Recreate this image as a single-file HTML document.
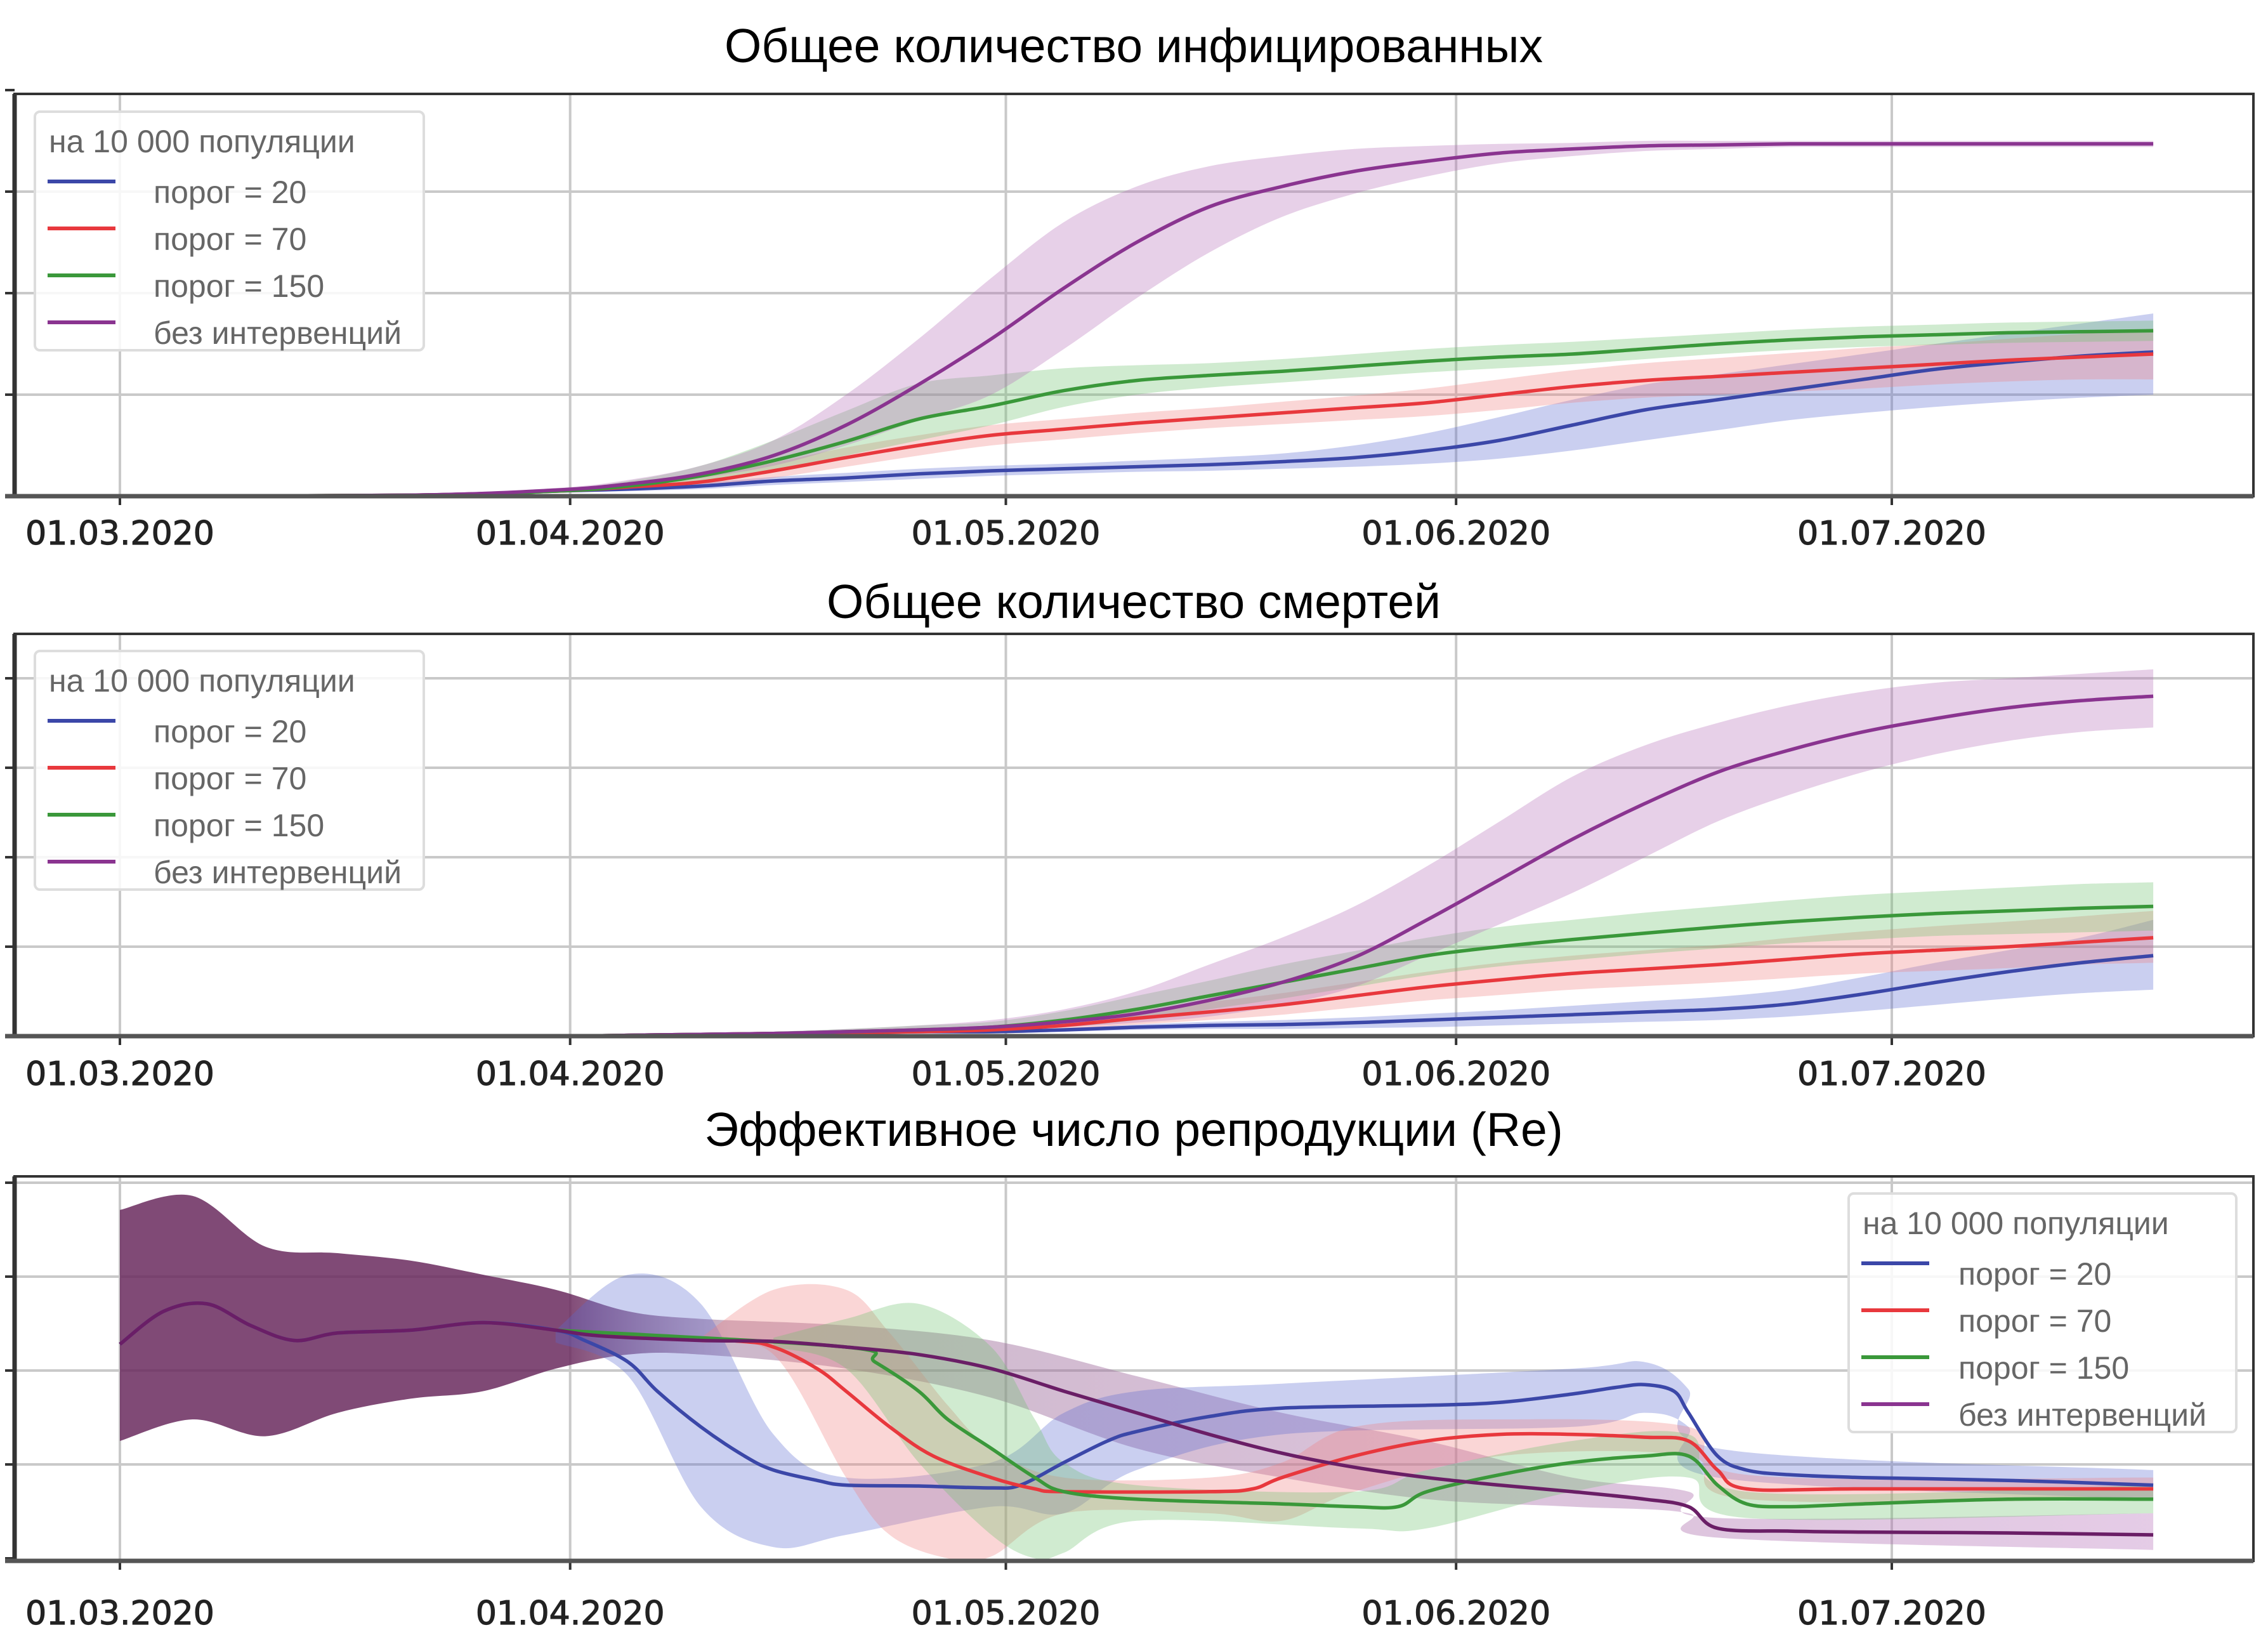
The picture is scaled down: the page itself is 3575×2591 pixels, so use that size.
<!DOCTYPE html>
<html><head><meta charset="utf-8">
<style>
html,body{margin:0;padding:0;background:#fff;}
svg{display:block;}
.title{font-family:"Liberation Sans","DejaVu Sans",sans-serif;font-size:75px;fill:#000;}
.tick{font-family:"DejaVu Sans","Liberation Sans",sans-serif;font-size:52px;fill:#222;stroke:#222;stroke-width:1.2px;}
.leg{font-family:"Liberation Sans","DejaVu Sans",sans-serif;font-size:50px;fill:#666;}
</style></head>
<body>
<svg id="chart" width="3575" height="2591" viewBox="0 0 3575 2591" xmlns="http://www.w3.org/2000/svg">
<defs>
<linearGradient id="p3grad" gradientUnits="userSpaceOnUse" x1="189" y1="0" x2="3393" y2="0">
<stop offset="0" stop-color="#6a2a5e" stop-opacity="0.85"/>
<stop offset="0.22" stop-color="#6a2a5e" stop-opacity="0.85"/>
<stop offset="0.30" stop-color="#9a7096" stop-opacity="0.5"/>
<stop offset="1" stop-color="#b46cb8" stop-opacity="0.35"/>
</linearGradient>
</defs>
</svg>
<script>
// ---- data (day index from 01.03.2020) ----
const dateTickDays = [0, 31, 61, 92, 122];
const dateTickLabels = ["01.03.2020","01.04.2020","01.05.2020","01.06.2020","01.07.2020"];
const panelTitles = ["Общее количество инфицированных","Общее количество смертей","Эффективное число репродукции (Re)"];
const seriesNames = ["порог = 20","порог = 70","порог = 150","без интервенций"];
const legendTitle = "на 10 000 популяции";

const days12 = [0,20,30,35,40,45,50,55,60,65,70,75,80,85,90,95,100,105,110,115,120,125,130,135,140];

// Panel 1: infected
const p1BlueMean = [0,.01,.05,.07,.1,.15,.18,.22,.25,.27,.29,.31,.34,.38,.45,.55,.7,.85,.95,1.05,1.15,1.25,1.32,1.38,1.42];
const p1BlueHi = [0,.01,.06,.09,.13,.19,.23,.27,.3,.32,.35,.38,.42,.5,.62,.78,.95,1.1,1.2,1.3,1.4,1.5,1.6,1.7,1.8];
const p1BlueLo = [0,.01,.04,.05,.07,.11,.14,.17,.2,.22,.24,.25,.27,.29,.32,.37,.45,.55,.65,.75,.82,.88,.93,.97,1.0];
const p1RedMean = [0,.01,.05,.09,.14,.25,.38,.5,.6,.66,.72,.77,.82,.87,.92,1.0,1.08,1.14,1.18,1.22,1.26,1.3,1.34,1.37,1.4];
const p1RedHi = [0,.01,.06,.12,.2,.33,.48,.6,.7,.76,.82,.87,.93,.99,1.06,1.15,1.24,1.31,1.36,1.41,1.46,1.5,1.55,1.6,1.65];
const p1RedLo = [0,.01,.04,.07,.1,.18,.29,.4,.5,.56,.62,.67,.71,.75,.79,.85,.92,.97,1.0,1.03,1.06,1.1,1.13,1.15,1.15];
const p1GreenMean = [0,.01,.05,.1,.2,.35,.54,.76,.89,1.04,1.14,1.19,1.23,1.28,1.33,1.37,1.4,1.45,1.5,1.54,1.57,1.59,1.61,1.62,1.63];
const p1GreenHi = [0,.01,.07,.15,.3,.55,.84,1.11,1.19,1.26,1.29,1.31,1.35,1.4,1.45,1.49,1.52,1.56,1.6,1.64,1.67,1.69,1.71,1.72,1.73];
const p1GreenLo = [0,.01,.04,.07,.14,.25,.4,.55,.7,.88,1.0,1.07,1.12,1.17,1.22,1.26,1.3,1.35,1.4,1.44,1.47,1.49,1.51,1.52,1.53];
const p1PurpleMean = [0,.01,.06,.12,.22,.4,.7,1.1,1.55,2.05,2.5,2.85,3.05,3.2,3.3,3.38,3.42,3.45,3.46,3.47,3.47,3.47,3.47,3.47,3.47];
const p1PurpleHi = [0,.02,.08,.16,.3,.55,1.0,1.55,2.15,2.7,3.05,3.25,3.35,3.42,3.45,3.47,3.48,3.5,3.5,3.5,3.5,3.5,3.5,3.5,3.5];
const p1PurpleLo = [0,.01,.04,.09,.18,.3,.5,.75,1.0,1.45,1.95,2.4,2.75,2.98,3.15,3.28,3.35,3.4,3.42,3.44,3.44,3.44,3.44,3.44,3.44];

// Panel 2: deaths
const p2BlueMean = [0,0,0,.01,.02,.03,.04,.05,.05,.07,.1,.12,.13,.15,.18,.21,.24,.27,.3,.36,.47,.6,.72,.82,.9];
const p2BlueHi = [0,0,0,.01,.02,.04,.05,.06,.07,.09,.13,.16,.18,.21,.25,.29,.34,.39,.44,.52,.66,.82,.96,1.1,1.3];
const p2BlueLo = [0,0,0,.01,.01,.02,.03,.03,.03,.05,.07,.08,.08,.09,.1,.12,.14,.16,.18,.22,.28,.35,.42,.48,.52];
const p2RedMean = [0,0,0,.01,.02,.03,.04,.05,.07,.12,.2,.27,.35,.45,.55,.63,.7,.75,.8,.86,.92,.96,1.0,1.05,1.1];
const p2RedHi = [0,0,0,.01,.03,.04,.06,.07,.1,.17,.28,.38,.48,.6,.72,.82,.9,.96,1.02,1.1,1.17,1.23,1.28,1.34,1.4];
const p2RedLo = [0,0,0,.01,.01,.02,.03,.03,.05,.08,.13,.18,.24,.32,.4,.46,.52,.56,.6,.65,.7,.73,.76,.8,.82];
const p2GreenMean = [0,0,0,.01,.02,.03,.05,.07,.1,.18,.3,.45,.6,.75,.9,1.0,1.08,1.15,1.22,1.28,1.33,1.37,1.4,1.43,1.45];
const p2GreenHi = [0,0,0,.01,.03,.05,.08,.12,.16,.28,.45,.62,.8,.95,1.1,1.22,1.3,1.38,1.45,1.52,1.58,1.62,1.66,1.7,1.72];
const p2GreenLo = [0,0,0,.01,.01,.02,.03,.04,.06,.1,.18,.3,.42,.55,.68,.78,.85,.92,.98,1.04,1.08,1.12,1.14,1.16,1.18];
const p2PurpleMean = [0,0,0,.01,.02,.03,.05,.07,.1,.16,.25,.4,.6,.88,1.3,1.75,2.2,2.6,2.95,3.2,3.4,3.55,3.67,3.75,3.8];
const p2PurpleHi = [0,0,0,.01,.03,.05,.08,.12,.18,.3,.5,.8,1.1,1.45,1.9,2.4,2.9,3.25,3.5,3.7,3.85,3.95,4.0,4.05,4.1];
const p2PurpleLo = [0,0,0,.01,.01,.02,.03,.04,.06,.1,.15,.22,.35,.55,.9,1.25,1.6,2.0,2.4,2.7,2.95,3.15,3.3,3.4,3.45];

// Panel 3: Re
const p3PurpleDays = [0,3,6,9,12,15,20,25,30,33,40,45,50,55,60,65,70,75,80,85,90,95,100,105,108,110,115,120,130,140];
const p3PurpleMean = [2.28,2.63,2.71,2.48,2.32,2.4,2.43,2.51,2.43,2.37,2.32,2.31,2.25,2.17,2.02,1.78,1.55,1.32,1.12,.97,.86,.78,.71,.63,.55,.32,.29,.28,.27,.25];
const p3PurpleBandDays = [0,5,10,15,20,25,30,35,40,50,60,70,80,90,100,108,110,140];
const p3PurpleHi = [3.71,3.86,3.32,3.25,3.17,3.02,2.86,2.63,2.55,2.48,2.32,1.94,1.55,1.25,.86,.71,.43,.48];
const p3PurpleLo = [1.25,1.48,1.3,1.55,1.7,1.78,2.02,2.17,2.17,2.02,1.71,1.17,.86,.63,.55,.48,.22,.09];
const p3BlueDays = [0,3,6,9,12,15,20,25,30,32,35,37,40,43,45,48,50,55,60,62,65,68,70,75,80,90,95,100,103,105,107,108,110,112,115,120,130,140];
const p3BlueMean = [2.28,2.63,2.71,2.48,2.32,2.4,2.43,2.51,2.43,2.32,2.09,1.78,1.4,1.09,.94,.83,.78,.77,.75,.78,1.02,1.25,1.35,1.51,1.6,1.63,1.66,1.75,1.82,1.85,1.78,1.55,1.09,.94,.89,.86,.83,.78];
const p3BlueBandDays = [30,35,40,45,50,60,65,70,80,100,105,108,110,140];
const p3BlueHi = [2.43,3.02,2.71,1.32,.86,1.02,1.55,1.78,1.86,2.02,2.09,1.8,1.17,.94];
const p3BlueLo = [2.3,1.94,.55,.12,.25,.55,.48,.94,1.32,1.4,1.55,1.4,.86,.63];
const p3RedDays = [30,42,45,48,50,53,56,60,63,65,75,78,80,85,90,95,100,105,108,110,112,120,140];
const p3RedMean = [2.43,2.32,2.25,2.02,1.78,1.4,1.09,.86,.74,.71,.71,.74,.86,1.09,1.25,1.32,1.32,1.29,1.25,.94,.74,.74,.74];
const p3RedBandDays = [40,45,50,53,57,60,65,75,80,85,95,108,112,140];
const p3RedHi = [2.35,2.86,2.86,2.4,1.63,1.17,.86,.86,1.02,1.4,1.48,1.4,.89,.86];
const p3RedLo = [2.3,2.17,.86,.25,0,.02,.48,.48,.4,.71,1.09,1.09,.63,.63];
const p3GreenDays = [30,50,52,55,57,60,63,65,70,80,85,88,90,95,100,105,108,110,112,115,120,130,140];
const p3GreenMean = [2.43,2.25,2.09,1.78,1.48,1.17,.86,.71,.63,.58,.55,.55,.71,.89,1.02,1.09,1.09,.78,.58,.55,.58,.63,.63];
const p3GreenBandDays = [45,50,55,60,63,65,70,85,90,100,108,112,140];
const p3GreenHi = [2.35,2.55,2.71,2.25,1.48,1.02,.78,.71,.94,1.25,1.32,.71,.78];
const p3GreenLo = [2.25,2.02,1.02,.25,0,.06,.4,.32,.32,.71,.86,.43,.48];

// ---- rendering ----
const NS = "http://www.w3.org/2000/svg";
const svg = document.getElementById("chart");
const COLORS = ["#3b47a8","#e8383d","#3a983a","#8a3490"];
const BANDS = ["#5a6ad0","#f08080","#6cc06c","#b46cb8"];
const X0 = 189, PXDAY = (2982 - 189) / 122;
function xs(d){ return X0 + d * PXDAY; }

const panels = [
  {top:148,bottom:782,unit:160,titleY:98,labelY:858,nGrid:4,legend:{x:55,y:176,w:613,h:376,tx:187},
   series:[[days12,p1BlueMean,days12,p1BlueHi,p1BlueLo],[days12,p1RedMean,days12,p1RedHi,p1RedLo],[days12,p1GreenMean,days12,p1GreenHi,p1GreenLo],[days12,p1PurpleMean,days12,p1PurpleHi,p1PurpleLo]]},
  {top:999,bottom:1633,unit:141,titleY:974,labelY:1710,nGrid:4,legend:{x:55,y:1026,w:613,h:376,tx:187},
   series:[[days12,p2BlueMean,days12,p2BlueHi,p2BlueLo],[days12,p2RedMean,days12,p2RedHi,p2RedLo],[days12,p2GreenMean,days12,p2GreenHi,p2GreenLo],[days12,p2PurpleMean,days12,p2PurpleHi,p2PurpleLo]]},
  {top:1854,bottom:2460,unit:148,zeroY:2456,titleY:1806,labelY:2560,nGrid:4,legend:{x:2914,y:1881,w:611,h:376,tx:173},
   series:[[p3PurpleDays,p3PurpleMean,p3PurpleBandDays,p3PurpleHi,p3PurpleLo,true],[p3BlueDays,p3BlueMean,p3BlueBandDays,p3BlueHi,p3BlueLo],[p3RedDays,p3RedMean,p3RedBandDays,p3RedHi,p3RedLo],[p3GreenDays,p3GreenMean,p3GreenBandDays,p3GreenHi,p3GreenLo]]}
];

function mk(tag, attrs, parent){
  const e = document.createElementNS(NS, tag);
  for (const k in attrs) e.setAttribute(k, attrs[k]);
  (parent || svg).appendChild(e);
  return e;
}
function smooth(pts){
  let d = "M" + pts[0][0].toFixed(1) + "," + pts[0][1].toFixed(1);
  for (let i = 0; i < pts.length - 1; i++){
    const p0 = pts[Math.max(0,i-1)], p1 = pts[i], p2 = pts[i+1], p3 = pts[Math.min(pts.length-1,i+2)];
    const c1 = [p1[0] + (p2[0]-p0[0])/6, p1[1] + (p2[1]-p0[1])/6];
    const c2 = [p2[0] - (p3[0]-p1[0])/6, p2[1] - (p3[1]-p1[1])/6];
    d += " C" + c1[0].toFixed(1)+","+c1[1].toFixed(1)+" "+c2[0].toFixed(1)+","+c2[1].toFixed(1)+" "+p2[0].toFixed(1)+","+p2[1].toFixed(1);
  }
  return d;
}

panels.forEach((P, pi) => {
  const y0 = P.zeroY || P.bottom;
  const ys = v => y0 - v * P.unit;
  const g = mk("g", {});
  
  

  const t = mk("text", {x:1787, y:P.titleY, "text-anchor":"middle", class:"title"}, g);
  t.textContent = panelTitles[pi];
  
  

  for (let k = 1; k <= P.nGrid; k++){
    const y = y0 - k * P.unit;
    if (y <= P.top + 4) continue;
    const l = mk("line", {x1:23, x2:3552, y1:y, y2:y, stroke:"#c9c9c9", "stroke-width":4}, g);
    
    
  }
  for (let k = 0; k <= P.nGrid; k++){
    const y = y0 - k * P.unit;
    if (y < P.top - 10) continue;
    const tk = mk("line", {x1:8, x2:23, y1:y, y2:y, stroke:"#333", "stroke-width":4}, g);
    
    
  }
  dateTickDays.forEach((d, i) => {
    const x = xs(d);
    const l = mk("line", {x1:x, x2:x, y1:P.top, y2:P.bottom, stroke:"#c9c9c9", "stroke-width":4}, g);
    
    
    const tk = mk("line", {x1:x, x2:x, y1:P.bottom, y2:P.bottom+14, stroke:"#333", "stroke-width":4}, g);
    
    
    const tx = mk("text", {x:x, y:P.labelY, "text-anchor":"middle", class:"tick"}, g);
    tx.textContent = dateTickLabels[i];
    
    
  });

  const colorIdx = pi === 2 ? [3,0,1,2] : [0,1,2,3];
  P.series.forEach((s, si) => {
    const c = colorIdx[si];
    const up = s[2].map((d, i) => [xs(d), ys(s[3][i])]);
    const lo = s[2].map((d, i) => [xs(d), ys(s[4][i])]).reverse();
    const dpath = smooth(up) + " L" + smooth(lo).slice(1) + " Z";
    const attrs = s[5] ? {d:dpath, fill:"url(#p3grad)", stroke:"none"} : {d:dpath, fill:BANDS[c], "fill-opacity":0.32, stroke:"none"};
    const b = mk("path", attrs, g);
    
    
  });
  const order = pi === 2 ? [1,2,3,0] : [0,1,2,3];
  order.forEach(si => {
    const s = P.series[si];
    const c = colorIdx[si];
    const pts = s[0].map((d, i) => [xs(d), ys(s[1][i])]);
    const ln = mk("path", {d:smooth(pts), fill:"none", stroke: (pi===2 && si===0) ? "#6a1e66" : COLORS[c], "stroke-width":5.5, "stroke-linejoin":"round"}, g);
    
    
  });

  const fr = mk("rect", {x:23, y:P.top, width:3529, height:P.bottom-P.top, fill:"none", stroke:"#333", "stroke-width":4}, g);
  
  
  const ls = mk("line", {x1:23, x2:23, y1:P.top, y2:P.bottom, stroke:"#333", "stroke-width":7}, g);
  
  
  const bs = mk("line", {x1:8, x2:3552, y1:P.bottom, y2:P.bottom, stroke:"#555", "stroke-width":7}, g);
  
  

  const L = P.legend;
  const lg = mk("g", {}, g);
  
  
  const box = mk("rect", {x:L.x, y:L.y, width:L.w, height:L.h, rx:8, fill:"#fff", "fill-opacity":0.85, stroke:"#ddd", "stroke-width":4}, lg);
  
  
  const lt = mk("text", {x:L.x+22, y:L.y+64, class:"leg"}, lg);
  lt.textContent = legendTitle;
  
  
  seriesNames.forEach((nm, i) => {
    const yy = L.y + 110 + i * 74;
    const sw = mk("line", {x1:L.x+20, x2:L.x+127, y1:yy, y2:yy, stroke:COLORS[i], "stroke-width":6}, lg);
    
    
    const tx = mk("text", {x:L.x+L.tx, y:yy+34, class:"leg"}, lg);
    tx.textContent = nm;
    
    
  });
});
</script>
</body></html>
